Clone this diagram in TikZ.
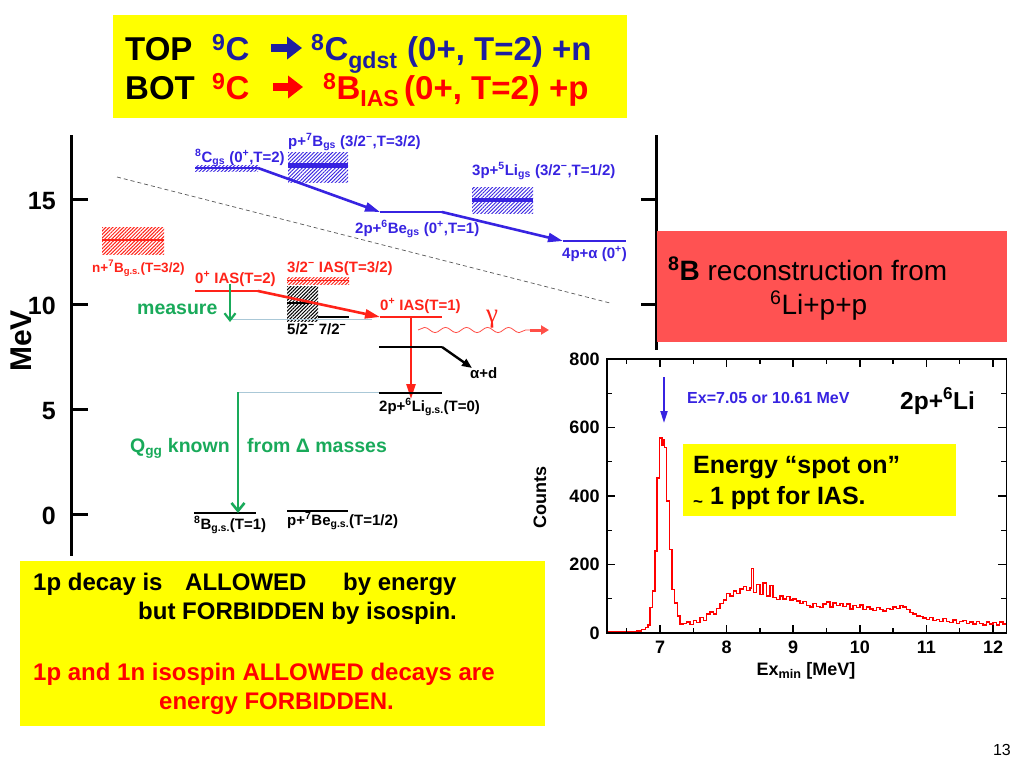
\documentclass[tikz,border=0pt]{standalone}
\usepackage{fontspec}
\setmainfont{Liberation Sans}
\newfontfamily\serf{Liberation Serif}
\usetikzlibrary{arrows.meta,patterns.meta,decorations.pathmorphing}
\definecolor{titleblue}{RGB}{30,30,160}
\definecolor{dblue}{RGB}{55,35,225}
\definecolor{dred}{RGB}{255,35,25}
\definecolor{dgreen}{RGB}{25,170,90}
\definecolor{boxred}{RGB}{255,82,82}
\definecolor{hyellow}{RGB}{255,255,0}
\definecolor{lightln}{RGB}{170,200,215}
\newcommand\supx[1]{\textsuperscript{#1}}
\newcommand\subx[1]{\textsubscript{#1}}
\newcommand\fsb[1]{\fontsize{#1}{#1}\selectfont\bfseries}
\newcommand\fsn[1]{\fontsize{#1}{#1}\selectfont}
\tikzset{
  ttl/.style={inner sep=0pt, anchor=base west, font=\fsb{33}},
  tarrow/.style={line width=8pt, -{Triangle[length=15pt,width=22pt]}},
  lbl/.style={inner sep=0pt, anchor=base west, font=\fsb{15}},
  glbl/.style={inner sep=0pt, anchor=base west, font=\fsb{19.5}, text=dgreen},
  btxt/.style={inner sep=0pt, anchor=base west, font=\fsb{24}},
  axlbl/.style={inner sep=0pt, anchor=east, font=\fsb{25}},
  hlbl/.style={inner sep=0pt, font=\fsb{18}},
  lvl/.style={line width=2.4pt},
  thinln/.style={line width=0.8pt, draw=lightln},
  tipb/.style={-{Triangle[length=15pt,width=9pt]}},
  tips/.style={-{Triangle[length=10pt,width=8pt]}},
  hatchb/.style={pattern={Lines[angle=45,distance=2.6pt,line width=0.9pt]}, pattern color=dblue},
  hatchr/.style={pattern={Lines[angle=45,distance=2.5pt,line width=1pt]}, pattern color=dred},
  hatchk/.style={pattern={Lines[angle=45,distance=2.5pt,line width=1pt]}, pattern color=black},
}
\begin{document}
\begin{tikzpicture}[x=1pt,y=-1pt]
\useasboundingbox (0,0) rectangle (1024,768);
\fill[white] (0,0) rectangle (1024,768);

% ---------- title ----------
\fill[hyellow] (113,15) rectangle (627,118);
\node[ttl] (t1a) at (125,60) {TOP};
\node[ttl,text=titleblue] (t1b) at (212,60) {\supx{9}C};
\coordinate (ta1) at (271,48);
\coordinate (ta2) at (302,48);
\draw[tarrow, titleblue] (ta1) -- (ta2);
\node[ttl,text=titleblue] (t1d) at (311,60) {\supx{8}C\subx{gdst}};
\node[ttl,text=titleblue] (t1e) at (407,60) {(0+, T=2) +n};
\node[ttl] (t2a) at (125,99) {BOT};
\node[ttl,text=red] (t2b) at (212,99) {\supx{9}C};
\coordinate (tb1) at (273,87);
\coordinate (tb2) at (303,87);
\draw[tarrow, red] (tb1) -- (tb2);
\node[ttl,text=red] (t2d) at (323,99) {\supx{8}B\subx{IAS}};
\node[ttl,text=red] (t2e) at (404,99) {(0+, T=2) +p};

% ---------- left energy axis ----------
\coordinate (axtop) at (71,135);
\coordinate (axbot) at (71,556);
\draw[line width=3pt] (axtop) -- (axbot);
\foreach \v/\yy in {15/199,10/304,5/409,0/514}{
  \draw[line width=3pt] (71,\yy) -- (88,\yy);
  \node[axlbl] (ax\v) at (56,\yy+2) {\v};
}
\node[inner sep=0pt, rotate=90, font=\fsb{30}] (mev) at (21,341) {MeV};

% right axis
\draw[line width=3pt] (656,135) -- (656,350);
\draw[line width=3pt] (641,199) -- (656,199);
\draw[line width=3pt] (641,304) -- (656,304);

% dashed line
\coordinate (d1) at (117,177);
\coordinate (d2) at (610,303);
\draw[gray!70!black, line width=0.7pt, dash pattern=on 4pt off 3pt] (d1) -- (d2);

% ---------- blue levels ----------
\fill[hatchb] (195,165) rectangle (258,171);
\draw[dblue, line width=1.5pt] (195,168) -- (258,168);
\coordinate (c8e) at (258,168);
\coordinate (be6a) at (380,212);
\coordinate (be6b) at (442,212);
\coordinate (alA) at (563,241);
\coordinate (alB) at (626,241);
\draw[dblue, line width=2.6pt, tipb] (c8e) -- (be6a);
\draw[dblue, line width=2.6pt] (be6a) -- (be6b);
\draw[dblue, line width=2.6pt, tipb] (be6b) -- (alA);
\draw[dblue, line width=2.6pt] (alA) -- (alB);
\fill[hatchb] (288,152) rectangle (348,182);
\fill[dblue] (288,163) rectangle (348,168);
\fill[hatchb] (472,187) rectangle (533,213);
\fill[dblue] (472,198) rectangle (533,202);
\node[lbl,text=dblue] (lc8) at (195,162) {\supx{8}C\subx{gs} (0\supx{+},T=2)};
\node[lbl,text=dblue] (lb7) at (288,146) {p+\supx{7}B\subx{gs} (3/2\supx{−},T=3/2)};
\node[lbl,text=dblue] (lbe6) at (355,233) {2p+\supx{6}Be\subx{gs} (0\supx{+},T=1)};
\node[lbl,text=dblue] (lli5) at (472,175) {3p+\supx{5}Li\subx{gs} (3/2\supx{−},T=1/2)};
\node[lbl,text=dblue] (lal) at (562,258) {4p+α (0\supx{+})};

% ---------- red levels ----------
\fill[hatchr] (102,227) rectangle (164,254);
\draw[dred, line width=2pt] (102,240) -- (164,240);
\node[lbl,text=dred,font=\fsb{13.5}] (ln7) at (92,272) {n+\supx{7}B\subx{g.s.}(T=3/2)};
\node[lbl,text=dred] (lias2) at (195,283) {0\supx{+} IAS(T=2)};
\node[lbl,text=dred] (lias32) at (287,272) {3/2\supx{−} IAS(T=3/2)};
\fill[hatchr] (287,277) rectangle (349,284);
\draw[dred, line width=1.5pt] (287,280.5) -- (349,280.5);

% black hatched 5/2-, 7/2-
\fill[hatchk] (287,286) rectangle (318,321);
\draw[line width=2pt] (287,303) -- (318,303);
\draw[line width=2pt] (318,317) -- (349,317);
\node[lbl] (l57) at (287,334) {5/2\supx{−} 7/2\supx{−}};

% light reference lines
\draw[thinln] (230,319) -- (372,319);
\draw[thinln] (238,392) -- (379,392);

% red decay path
\coordinate (ias2a) at (195,291);
\coordinate (ias2b) at (258,291);
\coordinate (ias1a) at (380,317);
\coordinate (ias1b) at (442,317);
\draw[dred, line width=2.6pt] (ias2a) -- (ias2b);
\draw[dred, line width=2.6pt, tipb] (ias2b) -- (ias1a);
\draw[dred, line width=2.6pt] (ias1a) -- (ias1b);
\node[lbl,text=dred] (lias1) at (380,310) {0\supx{+} IAS(T=1)};
\coordinate (vtop) at (411,317);
\coordinate (vbot) at (411,399);
\draw[dred, line width=2.6pt, tipb] (vtop) -- (vbot);

% gamma
\node[inner sep=0pt, anchor=base west, font=\serf\fsn{27}, text=dred] (lgam) at (486,322) {γ};
\coordinate (w1) at (418,330);
\coordinate (w2) at (530,330);
\coordinate (w3) at (549,330);
\draw[dred!80, line width=0.8pt, decorate, decoration={snake, amplitude=2.6pt, segment length=21pt}] (w1) -- (w2);
\draw[dred!80, line width=3pt, -{Triangle[length=8pt,width=9pt]}] (w2) -- (w3);

% black levels
\coordinate (k1a) at (379,347);
\coordinate (k1b) at (442,347);
\coordinate (k1c) at (472,368);
\draw[lvl] (k1a) -- (k1b);
\draw[line width=2.4pt, tips] (k1b) -- (k1c);
\node[lbl] (lad) at (470,378) {α+d};
\draw[lvl] (379,393) -- (442,393);
\node[lbl] (lli6) at (379,411) {2p+\supx{6}Li\subx{g.s.}(T=0)};
\draw[lvl] (194,513) -- (256,513);
\node[lbl] (lb8) at (194,529) {\supx{8}B\subx{g.s.}(T=1)};
\draw[lvl] (287,511) -- (348,511);
\node[lbl] (lbe7) at (287,525) {p+\supx{7}Be\subx{g.s.}(T=1/2)};

% green
\node[glbl] (lmeas) at (137,314) {measure};
\coordinate (g1a) at (230,284);
\coordinate (g1b) at (230,322);
\draw[dgreen, line width=2.2pt, -{Straight Barb[length=7pt,width=11pt]}] (g1a) -- (g1b);
\coordinate (g2a) at (238,392);
\coordinate (g2b) at (238,513);
\draw[dgreen, line width=2.6pt, -{Straight Barb[length=8pt,width=13pt]}] (g2a) -- (g2b);
\node[glbl] (lq) at (130,452) {Q\subx{gg} known};
\node[glbl] (lfrom) at (247,452) {from Δ masses};

% ---------- red box ----------
\fill[boxred] (657,231) rectangle (1007,342);
\node[inner sep=0pt, anchor=base west, font=\fsn{28}] (rb1) at (668,280) {\textbf{\supx{8}B} reconstruction from};
\node[inner sep=0pt, anchor=base west, font=\fsn{28}] (rb2) at (770,314) {\supx{6}Li+p+p};

% ---------- histogram ----------
\begin{scope}[shift={(193.8pt,-633pt)}, x=66.6pt, y=0.3425pt]
  \draw[red, line width=1.5pt, line join=miter]
  (6.2,3) -| (6.5,4) -| (6.65,6) -| (6.72,10) -| (6.78,16) -| (6.82,24) -| (6.85,75) -| (6.89,122) -| (6.925,240) -| (6.955,453) -| (6.99,570) -| (7.03,548) -| (7.045,565) -| (7.065,541) -| (7.10,385) -| (7.14,244) -| (7.18,127) -| (7.22,88) -| (7.26,49) -| (7.30,26)
  -| (7.35,28) -| (7.40,32) -| (7.45,25) -| (7.50,36) -| (7.55,30) -| (7.60,46) -| (7.65,36) -| (7.70,55) -| (7.75,62) -| (7.80,56) -| (7.85,72) -| (7.90,86) -| (7.95,96) -| (8.00,115) -| (8.05,108) -| (8.10,122) -| (8.15,116) -| (8.20,128) -| (8.25,136) -| (8.30,124) -| (8.35,132) -| (8.37,188) -| (8.40,118) -| (8.45,142) -| (8.50,112) -| (8.55,146) -| (8.60,108) -| (8.65,138) -| (8.70,104) -| (8.75,98) -| (8.80,108) -| (8.85,100) -| (8.90,106) -| (8.95,96) -| (9.00,100) -| (9.05,94) -| (9.10,86) -| (9.15,92) -| (9.20,80) -| (9.25,76) -| (9.30,86) -| (9.35,78) -| (9.40,74) -| (9.45,84) -| (9.50,90) -| (9.55,76) -| (9.60,88) -| (9.65,80) -| (9.70,86) -| (9.75,78) -| (9.80,84) -| (9.85,70) -| (9.90,80) -| (9.95,74) -| (10.00,82) -| (10.05,68) -| (10.10,76) -| (10.15,70) -| (10.20,66) -| (10.25,74) -| (10.30,68) -| (10.35,64) -| (10.40,72) -| (10.45,68) -| (10.50,76) -| (10.55,72) -| (10.60,80) -| (10.65,76) -| (10.70,68) -| (10.75,60) -| (10.80,56) -| (10.85,50) -| (10.90,48) -| (10.95,44) -| (11.00,40) -| (11.05,46) -| (11.10,36) -| (11.15,40) -| (11.20,34) -| (11.25,42) -| (11.30,34) -| (11.35,30) -| (11.40,38) -| (11.45,28) -| (11.50,34) -| (11.55,36) -| (11.60,28) -| (11.65,32) -| (11.70,26) -| (11.75,34) -| (11.80,28) -| (11.85,24) -| (11.90,32) -| (11.95,26) -| (12.00,30) -| (12.05,24) -| (12.10,32) -| (12.15,26) -| (12.2,26);
  \draw[line width=1.6pt] (6.2,0) rectangle (12.2,800);
  \foreach \E in {7,8,9,10,11,12}{
    \draw[line width=1.6pt] (\E,0) -- ++(0pt,8pt);
    \draw[line width=1.6pt] (\E,800) -- ++(0pt,-8pt);
    \node[hlbl, anchor=north] (xl\E) at ([yshift=-8pt]\E,0) {\E};
  }
  \foreach \E in {6.5,7.5,8.5,9.5,10.5,11.5}{
    \draw[line width=1.4pt] (\E,0) -- ++(0pt,5pt);
    \draw[line width=1.4pt] (\E,800) -- ++(0pt,-5pt);
  }
  \foreach \c in {200,400,600}{
    \draw[line width=1.6pt] (6.2,\c) -- ++(8pt,0pt);
    \draw[line width=1.6pt] (12.2,\c) -- ++(-8pt,0pt);
  }
  \foreach \c in {100,300,500,700}{
    \draw[line width=1.4pt] (6.2,\c) -- ++(5pt,0pt);
    \draw[line width=1.4pt] (12.2,\c) -- ++(-5pt,0pt);
  }
  \foreach \c in {0,200,400,600,800}{
    \node[hlbl, anchor=east] (yl\c) at ([xshift=-7pt]6.2,\c) {\c};
  }
\end{scope}
\node[hlbl, rotate=90] (lcounts) at (540,497) {Counts};
\node[hlbl, anchor=base] (lexmin) at (806,675) {Ex\subx{min} [MeV]};
\coordinate (ba1) at (664,377);
\coordinate (ba2) at (664,423);
\draw[dblue, line width=2pt, -{Triangle[length=12pt,width=7pt]}] (ba1) -- (ba2);
\node[inner sep=0pt, anchor=base west, font=\fsb{16}, text=dblue] (lex) at (687,403) {Ex=7.05 or 10.61 MeV};
\node[inner sep=0pt, anchor=base west, font=\fsb{24.5}] (l2p) at (900,409) {2p+\supx{6}Li};
\fill[hyellow] (683,444) rectangle (956,516);
\node[inner sep=0pt, anchor=base west, font=\fsb{25}] (les1) at (693,473) {Energy “spot on”};
\node[inner sep=0pt, anchor=base west, font=\fsb{25}] (les2) at (693,504) {\raisebox{-3pt}{\fsb{17}\char"007E} 1 ppt for IAS.};

% ---------- bottom yellow box ----------
\fill[hyellow] (20,561) rectangle (545,726);
\node[btxt] (bt1a) at (33,590) {1p decay is};
\node[btxt] (bt1b) at (185,590) {ALLOWED};
\node[btxt] (bt1c) at (343,590) {by energy};
\node[btxt] (bt2) at (138,619) {but FORBIDDEN by isospin.};
\node[btxt,text=red] (bt3) at (33,680) {1p and 1n isospin ALLOWED decays are};
\node[btxt,text=red] (bt4) at (159,709) {energy FORBIDDEN.};

% page number
\node[inner sep=0pt, anchor=base east, font=\fsn{16}] (pg) at (1011,755) {13};
\end{tikzpicture}
\end{document}
